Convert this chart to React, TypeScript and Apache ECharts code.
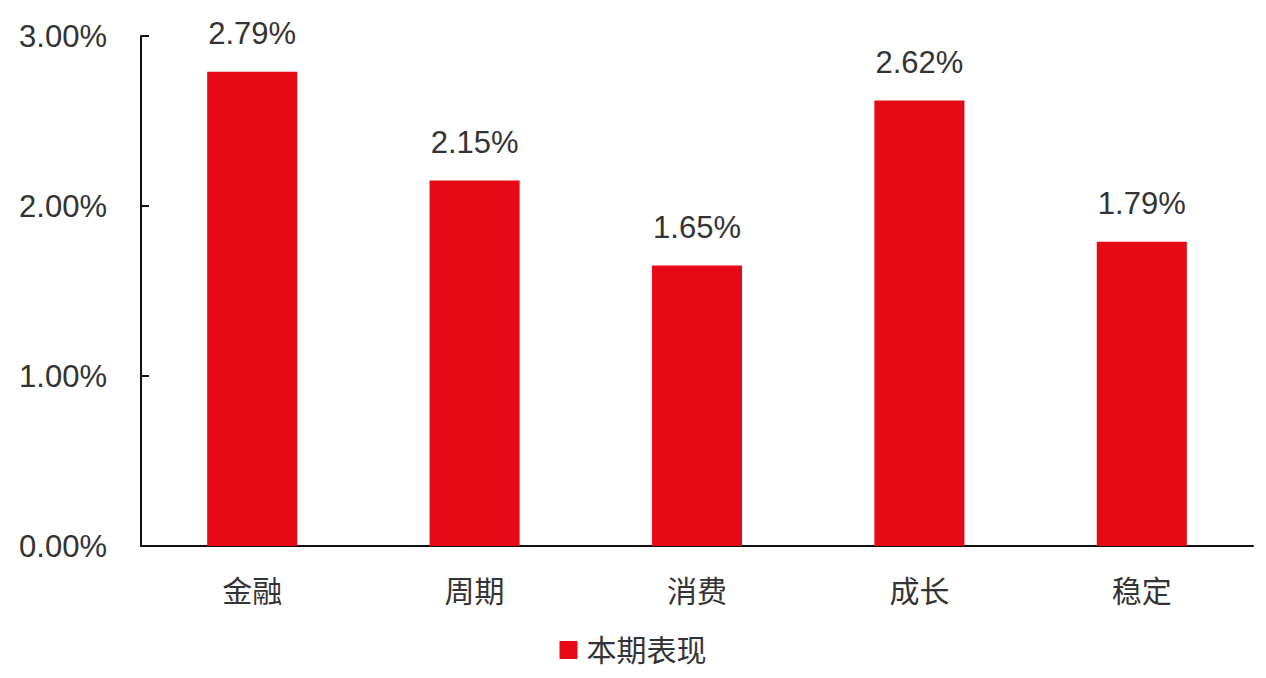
import React, { useEffect, useRef } from "react";
import * as echarts from "echarts";

const categories = ["金融", "周期", "消费", "成长", "稳定"];
const values = [2.79, 2.15, 1.65, 2.62, 1.79];
const seriesName = "本期表现";

const FONT = '"Liberation Sans", "Noto Sans CJK SC", sans-serif';

export default function App() {
  const ref = useRef<HTMLDivElement>(null);
  useEffect(() => {
    if (!ref.current) return;
    const chart = echarts.init(ref.current, undefined, { renderer: "svg" });
    chart.setOption({
      animation: false,
      textStyle: { fontFamily: FONT },
      grid: { left: 133, right: 5, top: 28, bottom: 124 },
      legend: {
        top: 622,
        left: "center",
        itemWidth: 18,
        itemHeight: 18,
        icon: "rect",
        textStyle: { fontSize: 30, color: "#333", fontFamily: FONT, padding: [0, 0, 0, 4] },
        data: [seriesName],
      },
      xAxis: {
        type: "category",
        data: categories,
        axisLine: { lineStyle: { color: "#111", width: 2 } },
        axisTick: { show: false },
        axisLabel: { fontSize: 30, color: "#333", margin: 30, fontFamily: FONT },
      },
      yAxis: {
        type: "value",
        min: 0,
        max: 3,
        interval: 1,
        splitLine: { show: false },
        axisLine: { show: true, lineStyle: { color: "#111", width: 2 } },
        axisTick: { show: true, inside: true, length: 8, lineStyle: { color: "#111", width: 2 } },
        axisLabel: {
          fontSize: 31,
          color: "#333",
          margin: 34,
          fontFamily: FONT,
          formatter: (v: number) => v.toFixed(2) + "%",
        },
      },
      series: [
        {
          name: seriesName,
          type: "bar",
          data: values,
          barWidth: "40.5%",
          itemStyle: { color: "#E60A17" },
          label: {
            show: true,
            position: "top",
            distance: 23,
            fontSize: 31,
            color: "#333",
            fontFamily: FONT,
            formatter: (p: any) => p.value.toFixed(2) + "%",
          },
        },
      ],
    });
    return () => chart.dispose();
  }, []);
  return <div ref={ref} style={{ width: 1250, height: 662 }} />;
}
